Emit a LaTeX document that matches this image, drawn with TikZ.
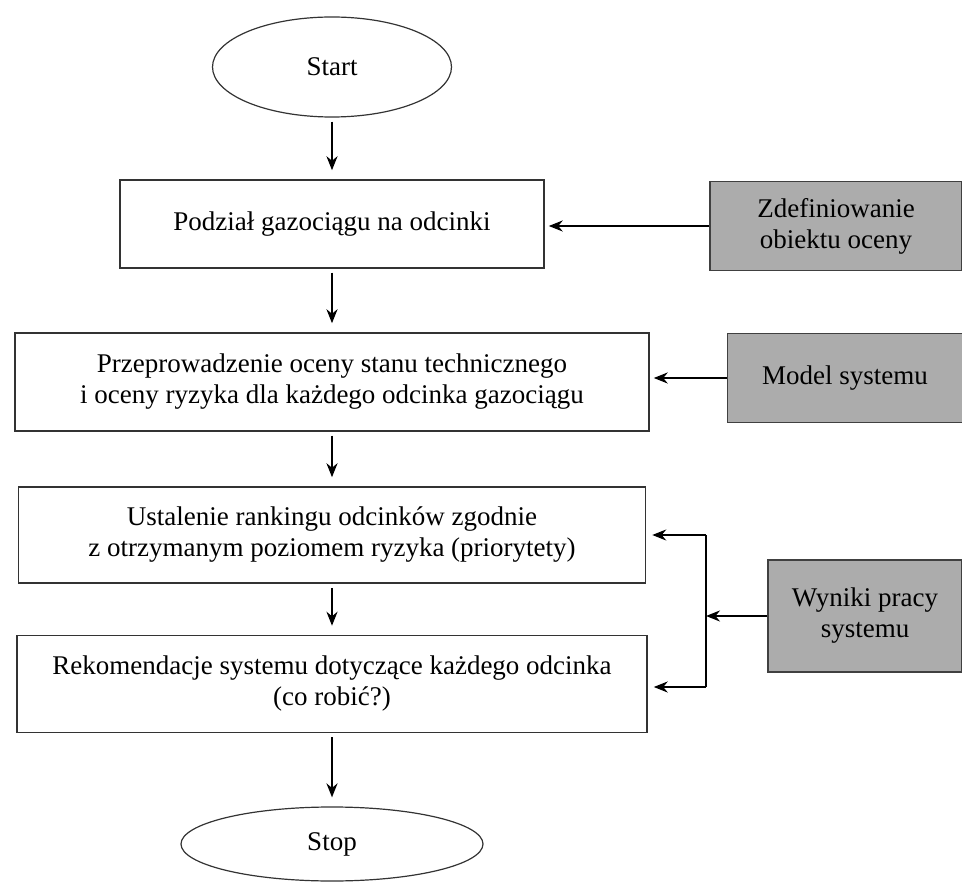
\documentclass[tikz,border=0pt]{standalone}
\usepackage{fontspec}
\setmainfont{Liberation Serif}
\usepackage{xcolor}
\usetikzlibrary{arrows.meta}
\usetikzlibrary{shapes}
\definecolor{wejsciegray}{RGB}{172,172,172}

\begin{document}
\begin{tikzpicture}
    [x=1pt, y=-1pt, font=\fontsize{27}{31}\selectfont,
    krok/.style={rectangle, draw=black!80, line width=1.5pt, align=center, inner sep=0pt},
    wejscie/.style={rectangle, draw=black!75, fill=wejsciegray, line width=1.5pt, align=center, inner sep=0pt},
    terminal/.style={ellipse, draw=black!80, line width=1.2pt, inner sep=0pt},
    strzalka/.style={-{Stealth[length=14pt,width=11pt]}, line width=2pt}]
    \useasboundingbox (0,0) rectangle (962,882);
    % przebieg glowny
    \node(start)[terminal, minimum width=239pt, minimum height=100pt] at (332,67) {Start};
    \node(podzial)[krok, minimum width=424pt, minimum height=88pt] at (332,224) {Podział gazociągu na odcinki};
    \node(ocena)[krok, minimum width=634pt, minimum height=98pt] at (332,382) {Przeprowadzenie oceny stanu technicznego\\i oceny ryzyka dla każdego odcinka gazociągu};
    \node(ranking)[krok, minimum width=627pt, minimum height=96pt] at (332,535) {Ustalenie rankingu odcinków zgodnie\\z otrzymanym poziomem ryzyka (priorytety)};
    \node(rekom)[krok, minimum width=630pt, minimum height=97pt] at (332,684) {Rekomendacje systemu dotyczące każdego odcinka\\(co robić?)};
    \node(stop)[terminal, minimum width=302pt, minimum height=74pt] at (332,844) {Stop};
    % wejscia
    \node(zdef)[wejscie, minimum width=252pt, minimum height=89pt] at (836,226) {Zdefiniowanie\\obiektu oceny};
    \node(model)[wejscie, minimum width=235pt, minimum height=89pt] at (845,378) {Model systemu};
    \node(wyniki)[wejscie, minimum width=194pt, minimum height=112pt] at (865,616) {Wyniki pracy\\systemu};
    \coordinate (rozgal) at (706,616);
    \coordinate (rozgalg) at (706,535);
    \coordinate (rozgald) at (706,687);

    \foreach \a/\b in {start/podzial,podzial/ocena,ocena/ranking,ranking/rekom,rekom/stop}{
        \draw[strzalka, shorten <=4pt, shorten >=9pt] (\a.south) -- (\b.north);
    }
    \draw[strzalka, shorten >=4pt] (zdef.west) -- (zdef.west -| podzial.east);
    \draw[strzalka, shorten >=4pt] (model.west) -- (model.west -| ocena.east);
    \draw[strzalka] (wyniki.west) -- (rozgal);
    \draw[line width=2pt] (rozgalg) -- (rozgald);
    \draw[strzalka, shorten >=6pt] (rozgalg) -- (rozgalg -| ranking.east);
    \draw[strzalka, shorten >=6pt] (rozgald) -- (rozgald -| rekom.east);
\end{tikzpicture}
\end{document}
